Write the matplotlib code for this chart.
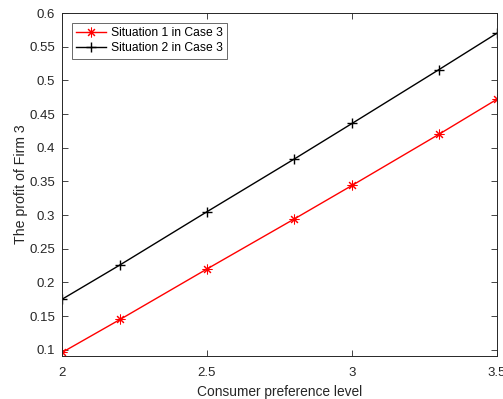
import matplotlib
matplotlib.use("Agg")
import matplotlib.pyplot as plt

x = [2.0, 2.2, 2.5, 2.8, 3.0, 3.3, 3.5]
situation1 = [0.096, 0.145, 0.220, 0.294, 0.344, 0.420, 0.472]
situation2 = [0.175, 0.226, 0.305, 0.383, 0.436, 0.516, 0.570]
xticks = [2, 2.5, 3, 3.5]
xticklabels = ["2", "2.5", "3", "3.5"]
yticks = [0.1, 0.15, 0.2, 0.25, 0.3, 0.35, 0.4, 0.45, 0.5, 0.55, 0.6]
yticklabels = ["0.1", "0.15", "0.2", "0.25", "0.3", "0.35", "0.4", "0.45", "0.5", "0.55", "0.6"]

plt.rcParams['font.family'] = ['Liberation Sans', 'DejaVu Sans']
axc = '#262626'

fig = plt.figure(figsize=(5.03, 3.99), dpi=100)
ax = fig.add_axes([62/503, 1-356/399, (497-62)/503, (356-13)/399])

ax.plot(x, situation1, color='red', lw=1.0, marker=(8, 2, 0), ms=7, mew=0.75,
        label='Situation 1 in Case 3')
ax.plot(x, situation2, color='black', lw=1.0, marker='+', ms=7.5, mew=1.0,
        label='Situation 2 in Case 3')

ax.set_xlim(2, 3.5)
ax.set_ylim(0.0908, 0.6)
ax.set_xticks(xticks)
ax.set_xticklabels(xticklabels)
ax.set_yticks(yticks)
ax.set_yticklabels(yticklabels)
ax.tick_params(direction='in', length=4, width=0.6, colors=axc, labelsize=9.5,
               top=True, right=True)
ax.tick_params(axis='x', pad=8)
ax.tick_params(axis='y', pad=5)
for s in ax.spines.values():
    s.set_color(axc)
    s.set_linewidth(0.7)
ax.set_xlabel('Consumer preference level', fontsize=9.9, color=axc, labelpad=4)
ax.set_ylabel('The profit of Firm 3', fontsize=10.2, color=axc, labelpad=1)

leg = ax.legend(loc='upper left', bbox_to_anchor=(0.023, 0.972), fontsize=8.7,
                frameon=True, fancybox=False, edgecolor=axc, borderpad=0.35,
                labelspacing=0.3, handlelength=2.5, handletextpad=0.35,
                borderaxespad=0)
leg.get_frame().set_linewidth(0.6)

fig.savefig('out.png', dpi=100)
